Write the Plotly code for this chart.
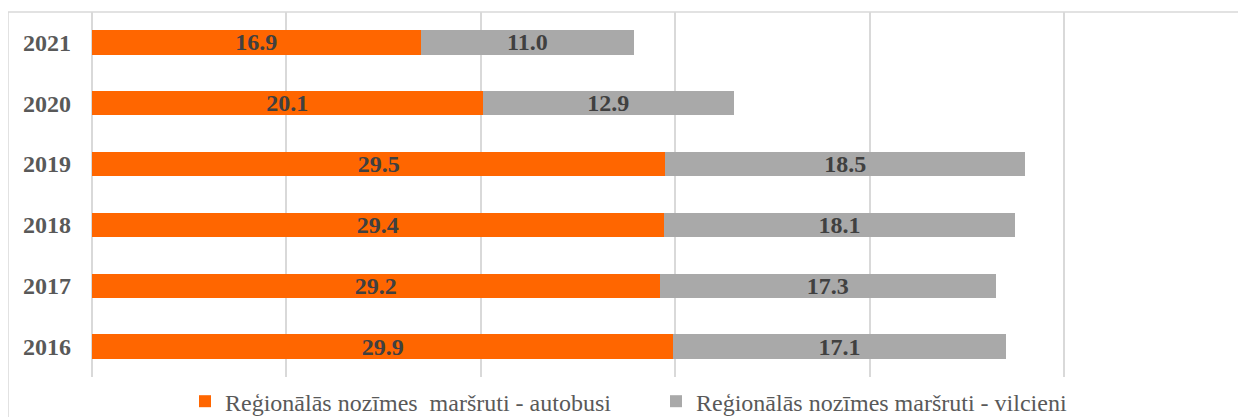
import plotly.graph_objects as go

years = ["2016", "2017", "2018", "2019", "2020", "2021"]
bus = [29.9, 29.2, 29.4, 29.5, 20.1, 16.9]
train = [17.1, 17.3, 18.1, 18.5, 12.9, 11.0]
bus_name = "Reģionālās nozīmes\u00a0 maršruti - autobusi"
train_name = "Reģionālās nozīmes maršruti - vilcieni"

SERIF = "Liberation Serif"

label_font = dict(family=SERIF, size=24, color="#404040", weight="bold")

fig = go.Figure()
fig.add_trace(go.Bar(
    y=years, x=bus, orientation="h", name=bus_name,
    marker=dict(color="#FF6600", line=dict(width=0)),
    text=[f"{v:.1f}" for v in bus], textposition="inside",
    insidetextanchor="middle", constraintext="none",
    textfont=label_font,
))
fig.add_trace(go.Bar(
    y=years, x=train, orientation="h", name=train_name,
    marker=dict(color="#A9A9A9", line=dict(width=0)),
    text=[f"{v:.1f}" for v in train], textposition="inside",
    insidetextanchor="middle", constraintext="none",
    textfont=label_font,
))

# page body has an 8px margin, so compensate
OFF = 8
W, H = 1246, 417
ml, mt, mr = 92 - OFF, 12 - OFF, 1
ph = 365
mb = H - mt - ph
pw = W - ml - mr
px_per_unit = 194.4 / 10

legend_left_page = 230 - 45  # desired legend left edge (page px)
legend_x = (legend_left_page - 92) / pw

fig.update_layout(
    width=W, height=H,
    margin=dict(l=ml, r=mr, t=mt, b=mb, pad=0),
    barmode="stack", bargap=0.6,
    plot_bgcolor="white", paper_bgcolor="white",
    showlegend=True,
    legend=dict(
        orientation="h", x=legend_x, xanchor="left", y=-0.0674, yanchor="middle",
        font=dict(family=SERIF, size=24, color="#595959"),
        traceorder="normal", entrywidth=426, entrywidthmode="pixels",
        itemclick=False,
    ),
    xaxis=dict(
        range=[0, pw / px_per_unit], dtick=10, showticklabels=False,
        showgrid=True, gridcolor="#D9D9D9", gridwidth=1.5,
        zeroline=True, zerolinecolor="#D9D9D9", zerolinewidth=1.5,
        showline=False, fixedrange=True,
    ),
    yaxis=dict(
        categoryorder="array", categoryarray=years,
        range=[-0.5, 5.5],
        tickfont=dict(family=SERIF, size=24, color="#595959", weight="bold"),
        ticklabelstandoff=20, showgrid=False, showline=False, zeroline=False,
        fixedrange=True,
    ),
)

# chart border (top and left edges visible in the crop)
bx = (8 - 92) / pw
fig.add_shape(type="line", xref="paper", yref="paper",
              x0=bx, x1=1.02, y0=1, y1=1,
              line=dict(color="#D9D9D9", width=1.5))
fig.add_shape(type="line", xref="paper", yref="paper",
              x0=bx, x1=bx, y0=1, y1=-0.2,
              line=dict(color="#D9D9D9", width=1.5))

fig.write_html("out.html")
